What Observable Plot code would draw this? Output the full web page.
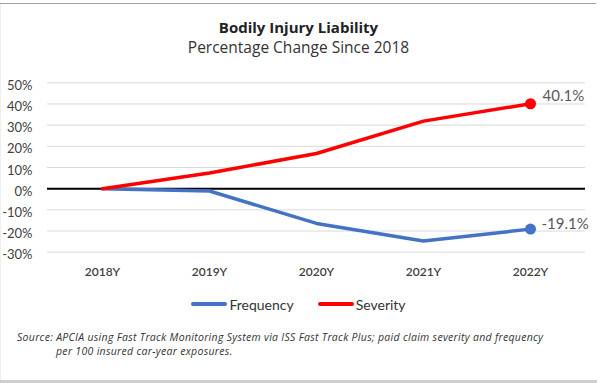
<!DOCTYPE html>
<html>
<head>
<meta charset="utf-8">
<script src="https://cdn.jsdelivr.net/npm/d3@7"></script>
<script src="https://cdn.jsdelivr.net/npm/@observablehq/plot@0.6"></script>
<style>
  html, body { margin: 0; padding: 0; background: #fff; }
  #frame { position: relative; width: 597px; height: 383px; overflow: hidden; background: #fff; }
  #topline { position: absolute; left: 0; top: 3px; width: 596px; height: 1px; background: #a0a0a0; }
  #leftline { position: absolute; left: 0; top: 4px; width: 1px; height: 376px; background: #efefef; }
  #bottomband { position: absolute; left: 0; top: 380px; width: 597px; height: 3px; background: #cfcfcf; }
  #title { position: absolute; left: 0; width: 597px; top: 17px; line-height: 20px; text-align: center;
           font-family: "Open Sans", sans-serif; font-weight: 700; font-size: 15px; color: #222; }
  #subtitle { position: absolute; left: 0; width: 597px; top: 37px; line-height: 20px; text-align: center;
           font-family: "Open Sans", sans-serif; font-weight: 400; font-size: 15.5px; color: #333; }
  #chart { position: absolute; left: 0; top: 60px; }
  #legend { position: absolute; left: 0; width: 597px; top: 294px; height: 20px; display: flex;
            justify-content: center; align-items: center; gap: 24px;
            font-family: Lato, sans-serif; font-size: 14px; color: #333; }
  .item { display: flex; align-items: center; }
  .swatch { width: 36px; height: 4px; border-radius: 2px; margin-right: 2px; }
  #caption { position: absolute; left: 17px; top: 330px; width: 575px; line-height: 14px;
             font-family: "Open Sans", sans-serif; font-style: italic; font-size: 10.5px; letter-spacing: 0.3px;
             color: #333; white-space: nowrap; }
  #caption .l2 { padding-left: 39px; }
</style>
</head>
<body>
<div id="frame">
  <div id="topline"></div>
  <div id="leftline"></div>
  <div id="bottomband"></div>
  <div id="title">Bodily Injury Liability</div>
  <div id="subtitle">Percentage Change Since 2018</div>
  <div id="chart"></div>
  <div id="legend"></div>
  <div id="caption"></div>
</div>
<script>
const years = ["2018Y", "2019Y", "2020Y", "2021Y", "2022Y"];
const frequency = [0, -1.1, -16.4, -24.7, -19.1];
const severity = [0, 7.4, 16.6, 31.9, 40.1];
const yTicks = [-30, -20, -10, 0, 10, 20, 30, 40, 50];
const seriesNames = ["Frequency", "Severity"];
const seriesColors = ["#4472c4", "#ff0000"];
const captionLines = [
  "Source: APCIA using Fast Track Monitoring System via ISS Fast Track Plus; paid claim severity and frequency",
  "per 100 insured car-year exposures."
];

const seriesValues = [frequency, severity];
const data = seriesNames.flatMap((name, s) =>
  years.map((year, i) => ({ series: name, year, value: seriesValues[s][i], color: seriesColors[s] })));
const lastPoints = seriesNames.map((name, s) =>
  ({ series: name, year: years[years.length - 1], value: seriesValues[s][years.length - 1], color: seriesColors[s] }));
const fmt = d => `${d.value.toFixed(1)}%`;

const chart = Plot.plot({
  width: 597,
  height: 225,
  marginTop: 22.3,
  marginBottom: 33.3,
  marginLeft: 47,
  marginRight: 12,
  style: { fontFamily: "Lato, sans-serif", background: "transparent", overflow: "visible" },
  x: { type: "point", domain: years, padding: 0.5, label: null },
  y: { domain: [-30, 50], label: null },
  marks: [
    Plot.ruleY(yTicks, { stroke: "#d9d9d9", strokeWidth: 1 }),
    Plot.ruleY([0], { stroke: "#000", strokeWidth: 2 }),
    Plot.axisY({ ticks: yTicks, tickSize: 0, tickPadding: 15, tickFormat: d => `${d}%`,
                 fontSize: 13, fill: "#404040", dy: 3, label: null }),
    Plot.axisX({ tickSize: 0, tickPadding: 15, fontSize: 12, fontWeight: 600, fill: "#404040", label: null }),
    Plot.line(data, { x: "year", y: "value", z: "series", stroke: "color", strokeWidth: 3.5 }),
    Plot.dot(lastPoints, { x: "year", y: "value", r: 5.5, fill: "color" }),
    Plot.text(lastPoints.filter(d => d.value > 0), { x: "year", y: "value", text: fmt, dx: 12, dy: -8,
                            textAnchor: "start", fill: "#595959", fontSize: 15 }),
    Plot.text(lastPoints.filter(d => d.value <= 0), { x: "year", y: "value", text: fmt, dx: 11, dy: -5,
                            textAnchor: "start", fill: "#595959", fontSize: 15 })
  ]
});
document.getElementById("chart").appendChild(chart);

const legend = document.getElementById("legend");
seriesNames.forEach((name, s) => {
  const item = document.createElement("div");
  item.className = "item";
  const sw = document.createElement("div");
  sw.className = "swatch";
  sw.style.background = seriesColors[s];
  const label = document.createElement("span");
  label.textContent = name;
  item.appendChild(sw);
  item.appendChild(label);
  legend.appendChild(item);
});

const cap = document.getElementById("caption");
captionLines.forEach((t, i) => {
  const d = document.createElement("div");
  if (i > 0) d.className = "l2";
  d.textContent = t;
  cap.appendChild(d);
});
</script>
</body>
</html>
